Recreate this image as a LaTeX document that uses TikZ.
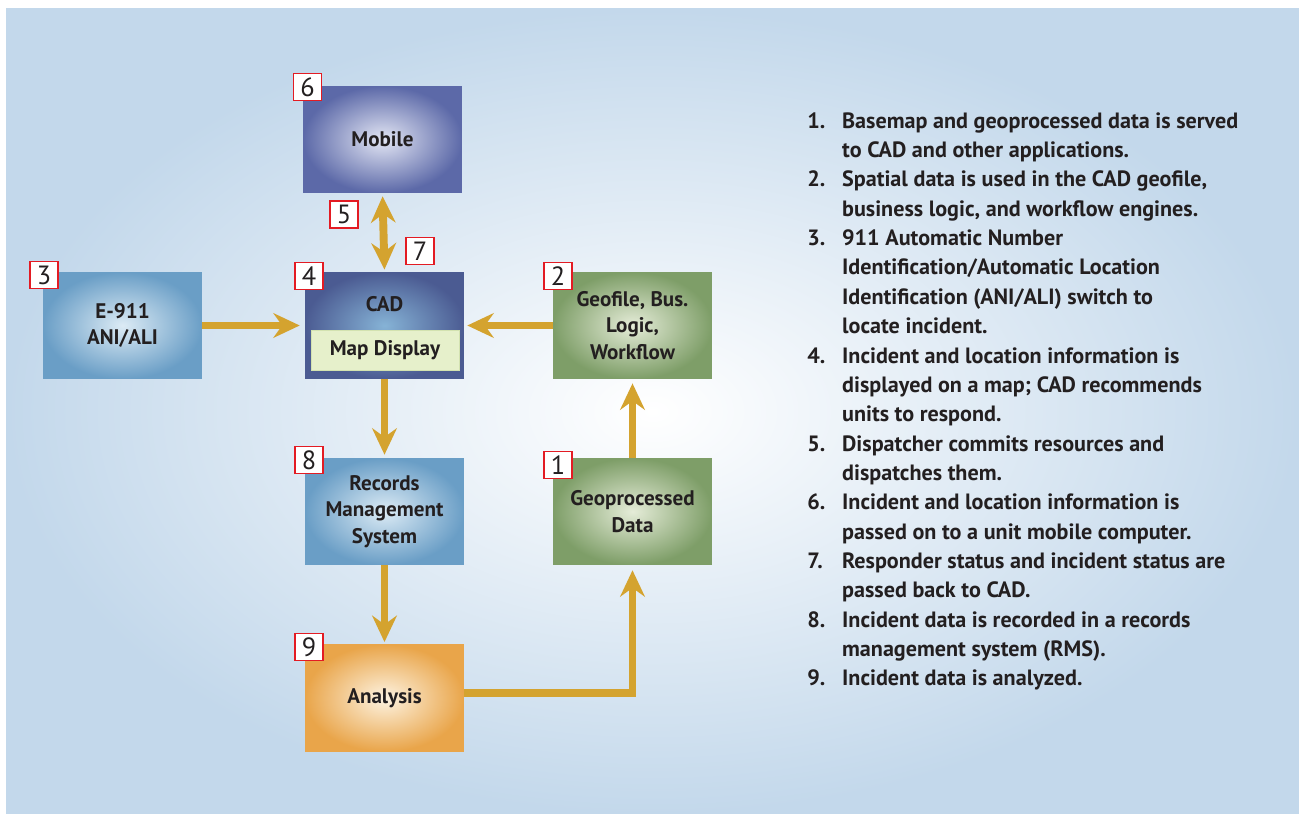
\documentclass[tikz,border=0pt]{standalone}
\usepackage{fontspec}
\setmainfont{PT Sans}
\usepackage{xcolor}
\usetikzlibrary{arrows.meta}

\definecolor{panelblue}{HTML}{C3D8EB}
\definecolor{arrowgold}{HTML}{D4A32F}
\definecolor{tagred}{HTML}{E31B23}
\definecolor{textgray}{HTML}{231F20}
\definecolor{mobilein}{HTML}{E3E6F4}
\definecolor{mobileout}{HTML}{5C69A8}
\definecolor{cadin}{HTML}{86B3D6}
\definecolor{cadout}{HTML}{4B5B92}
\definecolor{bluein}{HTML}{DCEBF5}
\definecolor{blueout}{HTML}{6A9EC6}
\definecolor{greenin}{HTML}{E5ECD8}
\definecolor{greenout}{HTML}{7E9E68}
\definecolor{orangein}{HTML}{FDF3E1}
\definecolor{orangeout}{HTML}{E9A54A}
\definecolor{mapfill}{HTML}{E6F0CB}
\definecolor{mapedge}{HTML}{D3E2B0}

\tikzset{
  box/.style={minimum width=3.18cm, minimum height=2.14cm, inner sep=0pt, align=center,
    text=textgray, font=\bfseries\fontsize{12}{15}\selectfont},
  mobilebox/.style={box, inner color=mobilein, outer color=mobileout},
  cadbox/.style={box, inner color=cadin, outer color=cadout},
  bluebox/.style={box, inner color=bluein, outer color=blueout},
  greenbox/.style={box, inner color=greenin, outer color=greenout},
  orangebox/.style={box, inner color=orangein, outer color=orangeout},
  mapbox/.style={minimum width=2.96cm, minimum height=0.8cm, inner sep=0pt, fill=mapfill,
    draw=mapedge, line width=0.4pt, text=textgray, font=\bfseries\fontsize{12}{15}\selectfont},
  tag/.style={draw=tagred, line width=1.1pt, fill=white, minimum width=0.56cm, minimum height=0.54cm,
    inner sep=0pt, text=textgray, font=\fontsize{15}{15}\selectfont},
  flow/.style={draw=arrowgold, line width=4.5pt, -{Stealth[length=15pt,width=14pt,inset=5pt]}},
}

\begin{document}
\begin{tikzpicture}[x=0.02cm, y=-0.02cm]
\useasboundingbox (0,0) rectangle (1299,814);
\fill[white] (0,0) rectangle (1299,814);
\shade[inner color=white, outer color=panelblue] (6,9) rectangle (1299,814);

% boxes
\node[mobilebox] (mobile) at (382.5,139.5) {Mobile};
\node[cadbox] (cad) at (384.5,325.5) {};
\node[text=textgray, font=\bfseries\fontsize{12}{15}\selectfont] (cadlabel) at (384.5,304) {CAD};
\node[mapbox] (map) at (385,350) {Map Display};
\node[bluebox] (e911) at (122.5,325.5) {E-911\\ANI/ALI};
\node[greenbox] (geofile) at (632.5,325.5) {\raisebox{-4pt}{\parbox{3cm}{\centering Geofile, Bus.\\Logic,\\Workflow}}};
\node[bluebox] (rms) at (384.5,511.5) {Records\\Management\\System};
\node[greenbox] (geodata) at (632.5,511.5) {\raisebox{-2pt}{\parbox{3cm}{\centering Geoprocessed\\Data}}};
\node[orangebox] (analysis) at (384.5,698) {Analysis};

% number tags
\node[tag] (t6) at (307.5,87) {6};
\node[tag] (t5) at (344,214.5) {5};
\node[tag] (t7) at (420,251) {7};
\node[tag] (t4) at (309,276) {4};
\node[tag] (t3) at (44,275) {3};
\node[tag] (t2) at (558,276) {2};
\node[tag] (t8) at (309,460) {8};
\node[tag] (t1) at (558,465) {1};
\node[tag] (t9) at (309,647) {9};

% connectors
\draw[flow, {Stealth[length=15pt,width=14pt,inset=5pt]}-{Stealth[length=15pt,width=14pt,inset=5pt]},
  shorten <=1.7pt, shorten >=1.2pt] (mobile.south) -- (cad.north);
\draw[flow, shorten >=2.8pt] (e911.east) -- (cad.west);
\draw[flow, shorten >=1.7pt] (geofile.west) -- (cad.east);
\draw[flow, shorten >=1.7pt] (cad.south) -- (rms.north);
\draw[flow, shorten >=1.2pt] (rms.south) -- (analysis.north);
\draw[flow, shorten >=2.3pt] (geodata.north) -- (geofile.south);
\draw[flow, shorten >=2.8pt] ([yshift=2.8pt]analysis.east) -| (geodata.south);

% steps list
\node[anchor=north west, inner sep=0pt, text=textgray, font=\bfseries\fontsize{12.6}{16.7}\selectfont]
  (steps) at (807,107.4) {%
  \renewcommand{\arraystretch}{1}%
  \begin{tabular}{@{}p{19.8pt}@{}l@{}}
  1. & Basemap and geoprocessed data is served\\
     & to CAD and other applications.\\
  2. & Spatial data is used in the CAD geofile,\\
     & business logic, and workflow engines.\\
  3. & 911 Automatic Number\\
     & Identification/Automatic Location\\
     & Identification (ANI/ALI) switch to\\
     & locate incident.\\
  4. & Incident and location information is\\
     & displayed on a map; CAD recommends\\
     & units to respond.\\
  5. & Dispatcher commits resources and\\
     & dispatches them.\\
  6. & Incident and location information is\\
     & passed on to a unit mobile computer.\\
  7. & Responder status and incident status are\\
     & passed back to CAD.\\
  8. & Incident data is recorded in a records\\
     & management system (RMS).\\
  9. & Incident data is analyzed.
  \end{tabular}};
\end{tikzpicture}
\end{document}
